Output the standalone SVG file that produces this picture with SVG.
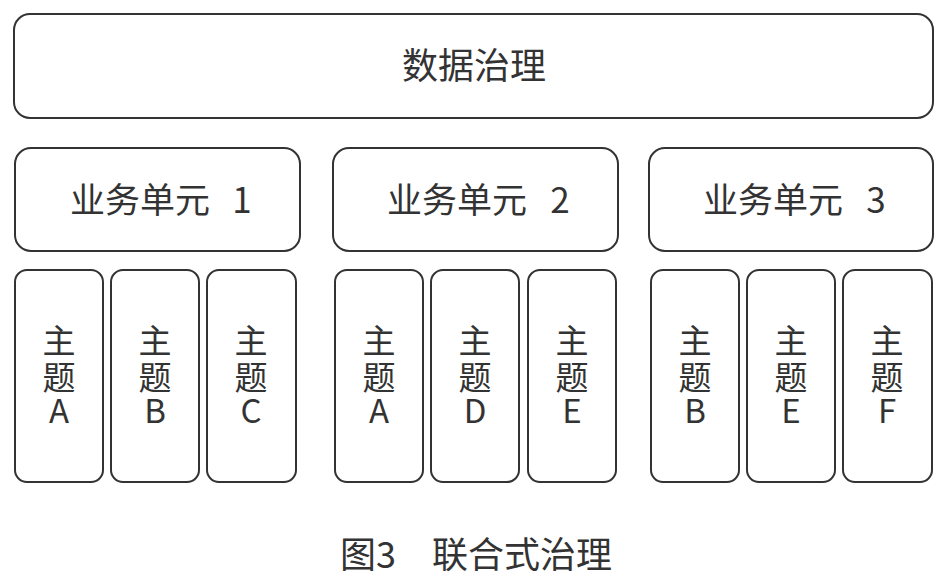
<svg xmlns="http://www.w3.org/2000/svg" width="949" height="577" viewBox="0 0 949 577">
<style>
.box{fill:#fff;stroke:#333;stroke-width:2}
.t{font-family:"Noto Sans CJK SC","Noto Sans",sans-serif;fill:#333;text-anchor:middle}
.big{font-size:36px}
.mid{font-size:35px}
.sm{font-size:33px}
.cap{font-size:36px}
</style>
<rect width="949" height="577" fill="#fff"/>
<g id="top">
<rect class="box" x="14" y="14" width="919" height="104" rx="16"/>
<text class="t big" x="474" y="79">数据治理</text>
</g>
<g id="bu1">
<rect class="box" x="15" y="148" width="285" height="103" rx="16"/>
<text class="t mid" x="157" y="213"><tspan x="140">业务单元</tspan><tspan x="242">1</tspan></text>
</g>
<g id="bu2">
<rect class="box" x="333" y="148" width="285" height="103" rx="16"/>
<text class="t mid" x="475" y="213"><tspan x="457">业务单元</tspan><tspan x="560">2</tspan></text>
</g>
<g id="bu3">
<rect class="box" x="649" y="148" width="284" height="103" rx="16"/>
<text class="t mid" x="791" y="213"><tspan x="773">业务单元</tspan><tspan x="876">3</tspan></text>
</g>
<g id="g1a"><rect class="box" x="15" y="270" width="88" height="212" rx="12"/><text class="t sm"><tspan x="59" y="353">主</tspan><tspan x="59" y="390">题</tspan><tspan x="59" y="423">A</tspan></text></g>
<g id="g1b"><rect class="box" x="111" y="270" width="88" height="212" rx="12"/><text class="t sm"><tspan x="155" y="353">主</tspan><tspan x="155" y="390">题</tspan><tspan x="155" y="423">B</tspan></text></g>
<g id="g1c"><rect class="box" x="207" y="270" width="89" height="212" rx="12"/><text class="t sm"><tspan x="251" y="353">主</tspan><tspan x="251" y="390">题</tspan><tspan x="251" y="423">C</tspan></text></g>
<g id="g2a"><rect class="box" x="335" y="270" width="88" height="212" rx="12"/><text class="t sm"><tspan x="379" y="353">主</tspan><tspan x="379" y="390">题</tspan><tspan x="379" y="423">A</tspan></text></g>
<g id="g2d"><rect class="box" x="431" y="270" width="88" height="212" rx="12"/><text class="t sm"><tspan x="475" y="353">主</tspan><tspan x="475" y="390">题</tspan><tspan x="475" y="423">D</tspan></text></g>
<g id="g2e"><rect class="box" x="528" y="270" width="88" height="212" rx="12"/><text class="t sm"><tspan x="572" y="353">主</tspan><tspan x="572" y="390">题</tspan><tspan x="572" y="423">E</tspan></text></g>
<g id="g3b"><rect class="box" x="651" y="270" width="88" height="212" rx="12"/><text class="t sm"><tspan x="695" y="353">主</tspan><tspan x="695" y="390">题</tspan><tspan x="695" y="423">B</tspan></text></g>
<g id="g3e"><rect class="box" x="747" y="270" width="88" height="212" rx="12"/><text class="t sm"><tspan x="791" y="353">主</tspan><tspan x="791" y="390">题</tspan><tspan x="791" y="423">E</tspan></text></g>
<g id="g3f"><rect class="box" x="843" y="270" width="89" height="212" rx="12"/><text class="t sm"><tspan x="887" y="353">主</tspan><tspan x="887" y="390">题</tspan><tspan x="887" y="423">F</tspan></text></g>
<g id="connectors"></g>
<g id="caption">
<text class="t cap" x="476" y="568">图3　联合式治理</text>
</g>
</svg>
